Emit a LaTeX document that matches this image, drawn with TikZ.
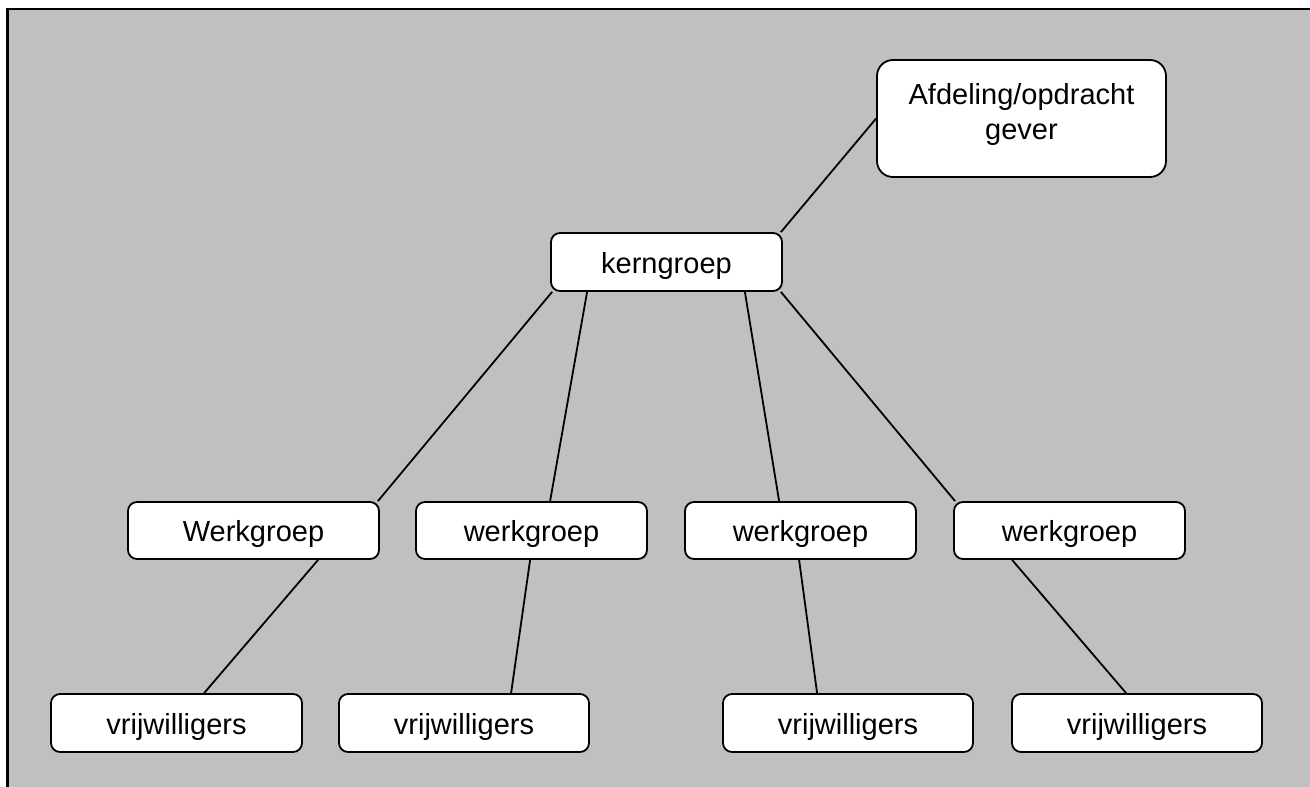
\documentclass[tikz,border=0pt]{standalone}
\usepackage{fontspec}
\setmainfont{Liberation Sans}
\usetikzlibrary{calc}
\definecolor{bggray}{RGB}{192,192,192}
\tikzset{
  boxnode/.style={draw=black, fill=white, line width=1.8pt, rounded corners=9pt,
    inner sep=0pt, text height=24pt, text depth=2pt,
    font=\fontsize{29}{34}\selectfont},
  bigbox/.style={draw=black, fill=white, line width=1.8pt, rounded corners=16pt, inner sep=0pt},
  txt/.style={inner sep=0pt, anchor=base, font=\fontsize{29}{34}\selectfont},
  conn/.style={draw=black, line width=1.8pt},
  frameline/.style={draw=black, line width=2.6pt}
}
\begin{document}
\begin{tikzpicture}[x=1pt, y=-1pt]
\useasboundingbox (0,0) rectangle (1310,787);
\fill[bggray] (8,9) rectangle (1310,787);
\draw[frameline] (7.7,787) -- (7.7,9) -- (1310,9);

% boxes
\node[bigbox, minimum width=289pt, minimum height=117pt] (afd) at (1021.5,118.5) {};
\node[txt] (afdA) at (1021.5,104) {Afdeling/opdracht};
\node[txt] (afdB) at (1021.5,139) {gever};

\node[boxnode, minimum width=231pt, minimum height=58pt] (kern) at (666.5,262) {kerngroep};

\node[boxnode, minimum width=251pt, minimum height=57pt] (wg1) at (253.5,530.5) {Werkgroep};
\node[boxnode, minimum width=231pt, minimum height=57pt] (wg2) at (531.5,530.5) {werkgroep};
\node[boxnode, minimum width=231pt, minimum height=57pt] (wg3) at (800.5,530.5) {werkgroep};
\node[boxnode, minimum width=231pt, minimum height=57pt] (wg4) at (1069.5,530.5) {werkgroep};

\node[boxnode, minimum width=251pt, minimum height=58pt] (vr1) at (176.5,723) {vrijwilligers};
\node[boxnode, minimum width=250pt, minimum height=58pt] (vr2) at (464,723) {vrijwilligers};
\node[boxnode, minimum width=250pt, minimum height=58pt] (vr3) at (848,723) {vrijwilligers};
\node[boxnode, minimum width=250pt, minimum height=58pt] (vr4) at (1137,723) {vrijwilligers};

% connectors
\draw[conn] (afd.west) -- ($(kern.north east)+(-2,0)$);
\draw[conn] ($(kern.south west)+(2,0)$) -- ($(wg1.north east)+(-2,0)$);
\draw[conn] ($(kern.south west)+(37,0)$) -- ($(wg2.north west)+(135,0)$);
\draw[conn] ($(kern.south east)+(-38,0)$) -- ($(wg3.north west)+(95,0)$);
\draw[conn] ($(kern.south east)+(-2,0)$) -- ($(wg4.north west)+(2,0)$);

\draw[conn] ($(wg1.south west)+(191,0)$) -- ($(vr1.north west)+(154,0)$);
\draw[conn] ($(wg2.south west)+(115,0)$) -- ($(vr2.north west)+(173,0)$);
\draw[conn] ($(wg3.south west)+(115,0)$) -- ($(vr3.north west)+(95,0)$);
\draw[conn] ($(wg4.south west)+(59,0)$) -- ($(vr4.north west)+(115,0)$);
\end{tikzpicture}
\end{document}
